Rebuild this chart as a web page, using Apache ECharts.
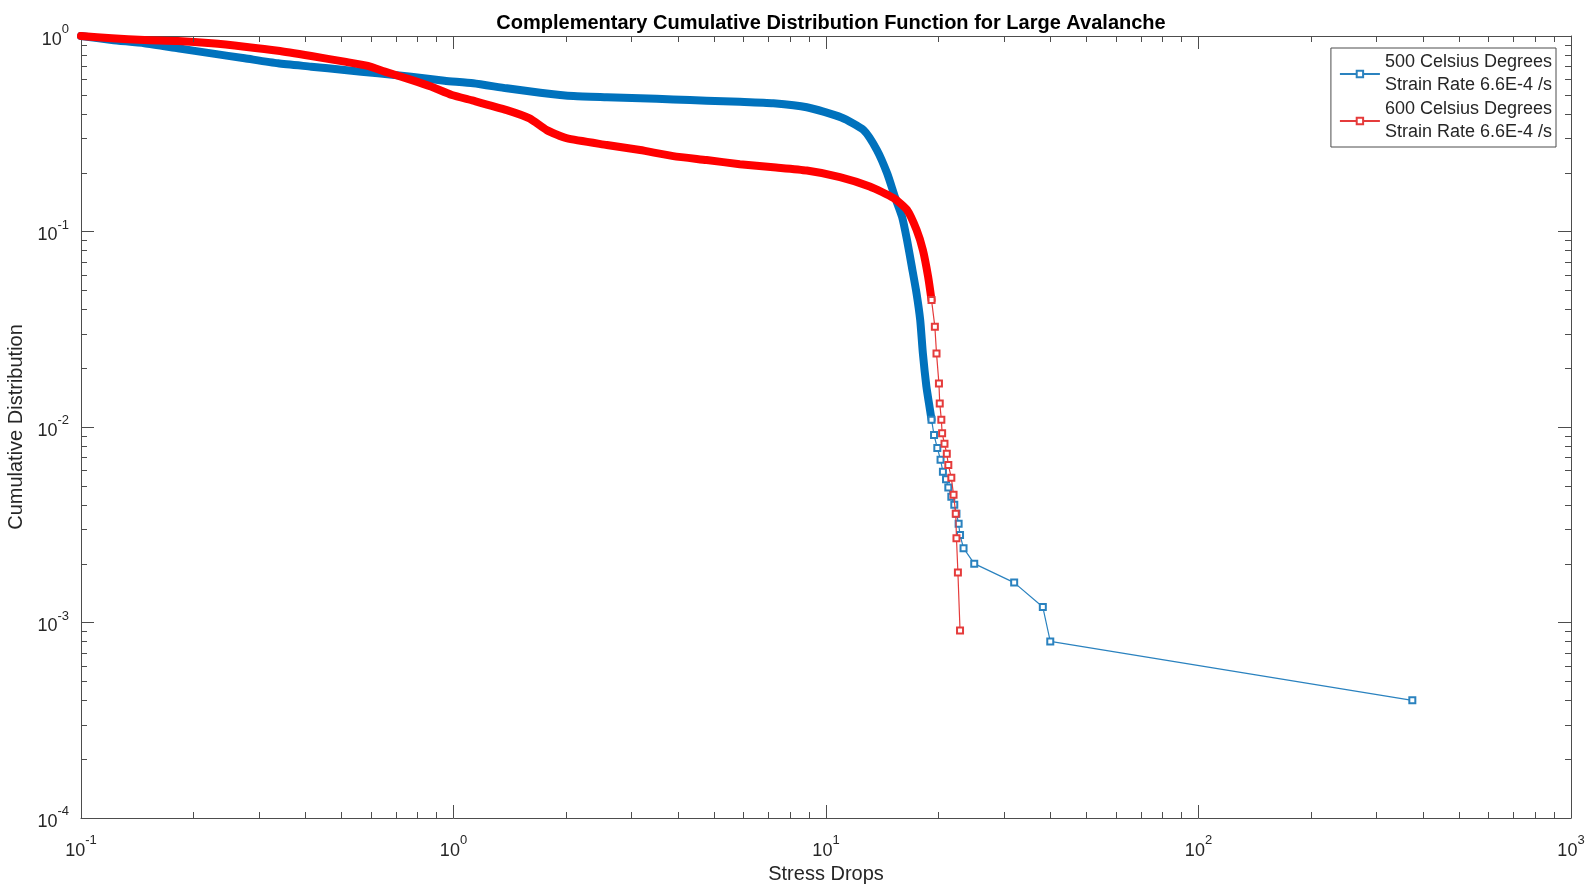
<!DOCTYPE html>
<html lang="en">
<head>
<meta charset="UTF-8">
<title>Complementary Cumulative Distribution Function for Large Avalanche</title>
<script src="https://cdn.jsdelivr.net/npm/echarts@6/dist/echarts.min.js"></script>
<style>
    html, body { margin: 0; padding: 0; background: #fff; }
    #main { width: 1593px; height: 884px; }
</style>
</head>
<body>
<div id="main"></div>
<script>
// 500 C: dense part of the CCDF (markers overlap into a solid band)
var blueHeadDrops = [0.1, 0.121, 0.148, 0.182, 0.224, 0.275, 0.338, 0.415, 0.51, 0.627, 0.77, 0.946,
    1.13, 1.39, 1.71, 2.1, 2.58, 3.17, 3.89, 4.78, 5.87, 7.22, 8.88, 11.0, 12.6, 13.7, 14.6, 15.3,
    16.0, 16.5, 17.0, 17.5, 17.9, 18.2, 18.6, 18.9, 19.2];
var blueHeadCcdf = [1.0, 0.954, 0.918, 0.865, 0.815, 0.769, 0.725, 0.697, 0.67, 0.644, 0.619, 0.591,
    0.573, 0.54, 0.513, 0.493, 0.486, 0.48, 0.474, 0.467, 0.461, 0.453, 0.432, 0.383, 0.331, 0.261, 0.198, 0.151,
    0.119, 0.0905, 0.066, 0.0483, 0.0353, 0.0238, 0.0161, 0.0132, 0.0109];
// 500 C: sparse tail, single markers
var blueTailDrops = [19.2, 19.5, 19.9, 20.3, 20.6, 21.0, 21.3, 21.7, 22.1, 22.4, 22.7, 22.9, 23.4, 25.0, 32.0, 38.2, 40.0, 375];
var blueTailCcdf = [0.0109, 0.0091, 0.0078, 0.0068, 0.0059, 0.0054, 0.0049, 0.0044, 0.004, 0.0036, 0.0032, 0.0028, 0.0024, 0.002, 0.0016, 0.0012, 0.0008, 0.0004];

// 600 C
var redHeadDrops = [0.1, 0.121, 0.148, 0.182, 0.224, 0.275, 0.338, 0.415, 0.51, 0.589, 0.654, 0.77, 0.87, 0.99,
    1.13, 1.39, 1.6, 1.78, 2.01, 2.58, 3.17, 3.89, 4.78, 5.87, 7.22, 8.88, 10.9, 13.1, 15.2, 16.5, 17.5,
    18.2, 18.8, 19.2];
var redHeadCcdf = [1.0, 0.973, 0.954, 0.943, 0.918, 0.882, 0.841, 0.79, 0.739, 0.703, 0.657, 0.596, 0.551, 0.499,
    0.467, 0.418, 0.379, 0.33, 0.3, 0.277, 0.261, 0.243, 0.232, 0.221, 0.213, 0.205, 0.19, 0.17, 0.148, 0.129, 0.102,
    0.0804, 0.0587, 0.0446];
var redTailDrops = [19.2, 19.6, 19.8, 20.1, 20.2, 20.4, 20.5, 20.8, 21.1, 21.3, 21.7, 22.0, 22.3, 22.4, 22.6, 22.9];
var redTailCcdf = [0.0446, 0.0326, 0.0238, 0.0167, 0.0132, 0.0109, 0.0093, 0.0082, 0.0073, 0.0064, 0.0055, 0.0045, 0.0036, 0.0027, 0.0018, 0.00091];

// minor tick positions (MATLAB style 2..9 in each decade)
var xMinorTicks = [0.2, 0.3, 0.4, 0.5, 0.6, 0.7, 0.8, 0.9, 2, 3, 4, 5, 6, 7, 8, 9,
    20, 30, 40, 50, 60, 70, 80, 90, 200, 300, 400, 500, 600, 700, 800, 900];
var yMinorTicks = [0.0002, 0.0003, 0.0004, 0.0005, 0.0006, 0.0007, 0.0008, 0.0009,
    0.002, 0.003, 0.004, 0.005, 0.006, 0.007, 0.008, 0.009,
    0.02, 0.03, 0.04, 0.05, 0.06, 0.07, 0.08, 0.09,
    0.2, 0.3, 0.4, 0.5, 0.6, 0.7, 0.8, 0.9];

var name500 = '500 Celsius Degrees\nStrain Rate 6.6E-4 /s';
var name600 = '600 Celsius Degrees\nStrain Rate 6.6E-4 /s';

var AXIS = '#4d4d4d';
var TEXT = '#262626';
var MAJOR = 13, MINOR = 6;

function pairs(xs, ys) {
    var out = [];
    for (var i = 0; i < xs.length; i++) out.push([xs[i], ys[i]]);
    return out;
}

function powerLabel(value) {
    var e = Math.round(Math.log10(value));
    return '{b|10}{s|' + e + '}';
}

var labelRich = {
    b: {fontSize: 18, lineHeight: 26, verticalAlign: 'bottom', color: TEXT, fontFamily: 'Liberation Sans'},
    s: {fontSize: 13, lineHeight: 13, verticalAlign: 'top', color: TEXT, fontFamily: 'Liberation Sans'}
};

function logAxis(pos, min, max, withLabels) {
    return {
        type: 'log', logBase: 10, min: min, max: max, position: pos,
        axisLine: {show: true, onZero: false, lineStyle: {color: AXIS, width: 1}},
        axisTick: {show: true, inside: true, length: MAJOR, lineStyle: {color: AXIS}},
        splitLine: {show: false},
        axisLabel: {show: withLabels, margin: 12, formatter: powerLabel, rich: labelRich}
    };
}

// minor ticks drawn on both sides of the box
function minorX(params, api) {
    var cs = params.coordSys;
    var x = Math.round(api.coord([api.value(0), 1])[0]) + 0.5;
    var b = cs.y + cs.height, t = cs.y;
    return {type: 'group', children: [
        {type: 'line', shape: {x1: x, y1: b, x2: x, y2: b - MINOR}, style: {stroke: AXIS, lineWidth: 1}},
        {type: 'line', shape: {x1: x, y1: t, x2: x, y2: t + MINOR}, style: {stroke: AXIS, lineWidth: 1}}
    ]};
}
function minorY(params, api) {
    var cs = params.coordSys;
    var y = Math.round(api.coord([1, api.value(1)])[1]) + 0.5;
    var l = cs.x, r = cs.x + cs.width;
    return {type: 'group', children: [
        {type: 'line', shape: {x1: l, y1: y, x2: l + MINOR, y2: y}, style: {stroke: AXIS, lineWidth: 1}},
        {type: 'line', shape: {x1: r, y1: y, x2: r - MINOR, y2: y}, style: {stroke: AXIS, lineWidth: 1}}
    ]};
}

var xAxis0 = logAxis('bottom', 0.1, 1000, true);
xAxis0.name = 'Stress Drops';
xAxis0.nameLocation = 'middle';
xAxis0.nameGap = 42;
xAxis0.nameTextStyle = {fontSize: 20, color: TEXT, fontFamily: 'Liberation Sans'};
xAxis0.axisLabel.margin = 16;

var yAxis0 = logAxis('left', 0.0001, 1, true);
yAxis0.name = 'Cumulative Distribution';
yAxis0.nameLocation = 'middle';
yAxis0.nameGap = 44;
yAxis0.nameTextStyle = {fontSize: 20, color: TEXT, fontFamily: 'Liberation Sans'};

var chart = echarts.init(document.getElementById('main'));
chart.setOption({
    animation: false,
    backgroundColor: '#fff',
    title: {
        text: 'Complementary Cumulative Distribution Function for Large Avalanche',
        left: 826, top: 8, textAlign: 'center',
        textStyle: {fontSize: 20, fontWeight: 'bold', color: '#000', fontFamily: 'Liberation Sans'}
    },
    legend: {
        data: [name500, name600],
        orient: 'vertical', right: 37, top: 48,
        padding: [3, 4, 3, 8], itemGap: 1,
        itemWidth: 40, itemHeight: 8,
        backgroundColor: '#fff', borderColor: AXIS, borderWidth: 1,
        textStyle: {fontSize: 18, lineHeight: 23, color: TEXT, fontFamily: 'Liberation Sans'}
    },
    grid: {left: 81, right: 22, top: 36, bottom: 66, outerBoundsMode: 'none'},
    xAxis: [xAxis0, logAxis('top', 0.1, 1000, false)],
    yAxis: [yAxis0, logAxis('right', 0.0001, 1, false)],
    series: [
        {
            name: name500, type: 'line', z: 2,
            data: pairs(blueTailDrops, blueTailCcdf),
            color: '#2a82bf', symbol: 'emptyRect', symbolSize: 6,
            lineStyle: {width: 1.2}
        },
        {
            name: name500, type: 'line', z: 2,
            data: pairs(blueHeadDrops, blueHeadCcdf),
            color: '#0072BD', symbol: 'none', smooth: 0.2,
            lineStyle: {width: 8, join: 'round', cap: 'round'}
        },
        {
            name: name600, type: 'line', z: 3,
            data: pairs(redTailDrops, redTailCcdf),
            color: '#e53b3b', symbol: 'emptyRect', symbolSize: 6,
            lineStyle: {width: 1.2}
        },
        {
            name: name600, type: 'line', z: 3,
            data: pairs(redHeadDrops, redHeadCcdf),
            color: '#ff0000', symbol: 'none', smooth: 0.2,
            lineStyle: {width: 8, join: 'round', cap: 'round'}
        },
        {
            type: 'custom', silent: true, z: 5,
            renderItem: minorX,
            data: xMinorTicks.map(function (v) { return [v, 1]; })
        },
        {
            type: 'custom', silent: true, z: 5,
            renderItem: minorY,
            data: yMinorTicks.map(function (v) { return [1, v]; })
        }
    ]
});
</script>
</body>
</html>
